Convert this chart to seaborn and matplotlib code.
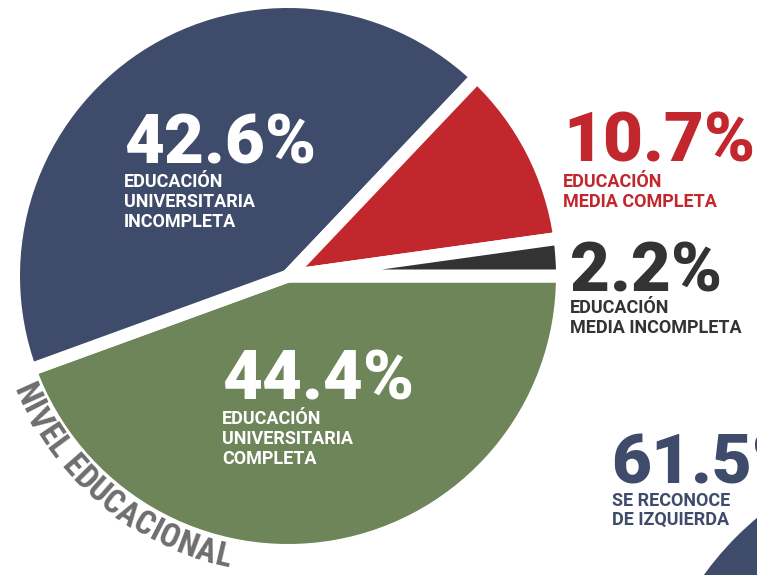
import matplotlib
matplotlib.use("Agg")
import matplotlib.pyplot as plt
import seaborn as sns
import numpy as np
from matplotlib.font_manager import FontProperties, findfont, get_font

# ---------------- data ----------------
categories = [
    ["EDUCACIÓN", "UNIVERSITARIA", "COMPLETA"],
    ["EDUCACIÓN", "UNIVERSITARIA", "INCOMPLETA"],
    ["EDUCACIÓN", "MEDIA COMPLETA"],
    ["EDUCACIÓN", "MEDIA INCOMPLETA"],
]
values = [44.4, 42.6, 10.7, 2.2]
value_labels = ["44.4%", "42.6%", "10.7%", "2.2%"]
colors = ["#6E8459", "#3F4B6B", "#C1272D", "#333333"]
text_colors = ["white", "white", "#C1272D", "#333333"]
title = "NIVEL EDUCACIONAL"
side_value = "61.5%"
side_label = ["SE RECONOCE", "DE IZQUIERDA"]
side_values = [61.5]

# ---------------- style ----------------
sns.set_theme(style="white")
plt.rcParams['font.family'] = ['Roboto', 'DejaVu Sans']

W, H = 757, 575
PX = 0.72  # points per pixel at dpi 100
fig = plt.figure(figsize=(W / 100, H / 100), dpi=100)
ax = fig.add_axes([0, 0, 1, 1])


def Y(py):
    return H - py


# main pie
cx, cy = 288, Y(276)
R = 274.5
ax.pie(values, colors=colors, startangle=0, counterclock=False,
       center=(cx, cy), radius=R,
       wedgeprops=dict(edgecolor='white', linewidth=13 * PX))

# partial second pie at the bottom-right corner
ax.pie(side_values, colors=["#3F4B6B"], startangle=90, counterclock=False,
       center=(960, Y(760)), radius=316,
       wedgeprops=dict(edgecolor='white', linewidth=0))

ax.set_xlim(0, W)
ax.set_ylim(0, H)
ax.set_aspect('equal')
ax.axis('off')

big_size = 69 * PX
small_size = 18 * PX
line_gap = 20

big_pos = [(222, 399), (124, 163), (563, 162), (570, 292)]
lab_base = [424, 187, 187, 313]

for i in range(len(values)):
    x, by = big_pos[i]
    ax.text(x, Y(by), value_labels[i], color=text_colors[i], fontsize=big_size,
            fontweight='black', ha='left', va='baseline')
    for j, line in enumerate(categories[i]):
        ax.text(x, Y(lab_base[i] + j * line_gap), line, color=text_colors[i],
                fontsize=small_size, fontweight='bold', ha='left', va='baseline')

# side text (cut at right edge, as in the reference)
ax.text(611, Y(483), side_value, color="#3F4B6B", fontsize=big_size,
        fontweight='black', ha='left', va='baseline', clip_on=True)
for j, line in enumerate(side_label):
    ax.text(612, Y(506 + j * 19), line, color="#3F4B6B", fontsize=small_size,
            fontweight='bold', ha='left', va='baseline')

# curved title along the lower-left rim
tfam = ['Roboto Condensed', 'Roboto', 'DejaVu Sans']
tweight = 'heavy'
ref_size = 30 * PX
fp = FontProperties(family=tfam, weight=tweight, size=ref_size)
font = get_font(findfont(fp))
font.set_size(ref_size, 72)
adv = []
for ch in title:
    g = font.load_char(ord(ch))
    adv.append(g.linearHoriAdvance / 65536 / PX)  # pixels
adv = np.array(adv)
centers = np.cumsum(adv) - adv / 2
span = centers[-1] - centers[0]
a0, a1 = np.deg2rad(204.3), np.deg2rad(257.0)
rt = 288
arc = rt * (a1 - a0)
tsize = ref_size * arc / span
for ch, c in zip(title, centers):
    th = a0 + (c - centers[0]) / span * (a1 - a0)
    x = cx + rt * np.cos(th)
    y = cy + rt * np.sin(th)
    ax.text(x, y, ch, color="#6E6E6E", fontsize=tsize, fontweight=tweight,
            family=tfam, rotation=np.rad2deg(th) + 90, rotation_mode='anchor',
            ha='center', va='center')

fig.savefig("out.png", dpi=100)
